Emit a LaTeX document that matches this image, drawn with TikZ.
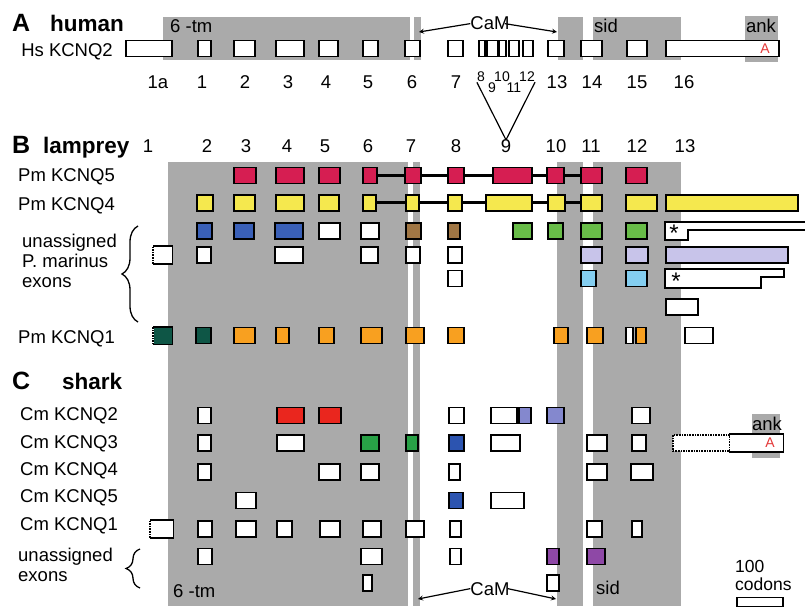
\documentclass[tikz,border=0pt]{standalone}
\usepackage{fontspec}
\setmainfont{Liberation Sans}
\usetikzlibrary{decorations.pathreplacing}

\definecolor{bandgray}{RGB}{170,170,170}
\definecolor{pmred}{RGB}{214,30,82}
\definecolor{pmyellow}{RGB}{245,232,78}
\definecolor{pmblue}{RGB}{58,96,184}
\definecolor{pmbrown}{RGB}{160,118,68}
\definecolor{pmgreen}{RGB}{104,188,72}
\definecolor{pmlilac}{RGB}{200,196,234}
\definecolor{pmcyan}{RGB}{132,206,240}
\definecolor{pmteal}{RGB}{14,86,70}
\definecolor{pmorange}{RGB}{248,160,32}
\definecolor{cmred}{RGB}{234,38,30}
\definecolor{cmgreen}{RGB}{40,160,70}
\definecolor{cmblue}{RGB}{44,84,176}
\definecolor{cmperi}{RGB}{132,136,206}
\definecolor{cmpurple}{RGB}{142,72,166}
\definecolor{ankred}{RGB}{228,56,56}

\begin{document}
\begin{tikzpicture}[
  x=1pt, y=-1pt,
  exon/.style={draw, line width=1.6pt, fill=white, anchor=west, inner sep=0pt,
    minimum height=16pt, minimum width=#1pt},
  exon/.default=14,
  band/.style={fill=bandgray, draw=none},
  link/.style={line width=3pt},
  cam/.style={->, >=stealth, line width=1.2pt},
  brc/.style={decorate, decoration={brace, amplitude=#1pt}, line width=1.3pt},
  head/.style={font=\fontsize{25}{28}\selectfont\bfseries, inner sep=0pt, anchor=base west},
  species/.style={font=\fontsize{22.5}{26}\selectfont\bfseries, inner sep=0pt, anchor=base west},
  lab/.style={font=\fontsize{18.5}{20}\selectfont, inner sep=0pt, anchor=base west},
  num/.style={font=\fontsize{18.5}{20}\selectfont, inner sep=0pt, anchor=base},
  sub/.style={font=\fontsize{14}{14}\selectfont, inner sep=0pt, anchor=base},
  ankA/.style={font=\fontsize{14}{14}\selectfont, text=ankred, inner sep=0pt},
  ast/.style={font=\fontsize{24}{24}\selectfont, inner sep=0pt},
]
\useasboundingbox (0,0) rectangle (805,609);

% --- shaded domains ---
\fill[band] (163,17) rectangle (410,60);
\fill[band] (414,17) rectangle (421,60);
\fill[band] (558,17) rectangle (583,60);
\fill[band] (593,17) rectangle (681,60);
\fill[band] (745,16) rectangle (778,62);

\fill[band] (168,162) rectangle (408,606);
\fill[band] (413,162) rectangle (420,606);
\fill[band] (557,162) rectangle (583,606);
\fill[band] (593,162) rectangle (681,606);
\fill[band] (752,414) rectangle (780,458);

% --- A: human ---
\node[head] (hA) at (12,32) {A};
\node[species] (hname) at (50,32) {human};
\node[lab, anchor=base east] (hsq2) at (113,56.5) {Hs KCNQ2};
\node[lab] (tmA) at (170,33) {6 -tm};
\node[lab] (sidA) at (594,33) {sid};
\node[lab, anchor=base] (ankH) at (761,33) {ank};
\node[num] (camA) at (490,30) {CaM};

\node[exon=46] (h1a) at (125,48.5) {};
\node[exon=13] (h1) at (197,48.5) {};
\node[exon=21] (h2) at (233,48.5) {};
\node[exon=28] (h3) at (275,48.5) {};
\node[exon=19] (h4) at (318,48.5) {};
\node[exon=15] (h5) at (362,48.5) {};
\node[exon=15] (h6) at (404,48.5) {};
\node[exon=15] (h7) at (447,48.5) {};
\node[exon=6] (h8) at (478,48.5) {};
\node[exon=11] (h9) at (486,48.5) {};
\node[exon=7] (h10) at (498,48.5) {};
\node[exon=10] (h11) at (508,48.5) {};
\node[exon=10] (h12) at (522,48.5) {};
\node[exon=16] (h13) at (547,48.5) {};
\node[exon=21] (h14) at (580,48.5) {};
\node[exon=20] (h15) at (626,48.5) {};
\node[exon=113] (h16) at (665,48.5) {};
\node[ankA] (hsank) at (765,48.5) {A};

\coordinate (cam6) at (419,32);
\coordinate (cam13) at (557,32);
\draw[cam] (camA.west) -- (cam6);
\draw[cam] ([xshift=-5pt]camA.east) -- (cam13);

\node[num] (hn1a) at (158,89) {1a};
\node[num] (hn1) at (202,89) {1};
\node[num] (hn2) at (245,89) {2};
\node[num] (hn3) at (288,89) {3};
\node[num] (hn4) at (326,89) {4};
\node[num] (hn5) at (368,89) {5};
\node[num] (hn6) at (412,89) {6};
\node[num] (hn7) at (456,89) {7};
\node[sub] (hs8) at (481,82) {8};
\node[sub] (hs9) at (492,93) {9};
\node[sub] (hs10) at (502,82) {10};
\node[sub] (hs11) at (514,93) {11};
\node[sub] (hs12) at (527,82) {12};
\node[num] (hn13) at (557,89) {13};
\node[num] (hn14) at (592,89) {14};
\node[num] (hn15) at (637,89) {15};
\node[num] (hn16) at (684,89) {16};

% --- B: lamprey ---
\node[head] (hB) at (12,154) {B};
\node[species] (lname) at (43,154) {lamprey};
\node[num] (bn1) at (148,153) {1};
\node[num] (bn2) at (207,153) {2};
\node[num] (bn3) at (246,153) {3};
\node[num] (bn4) at (287,153) {4};
\node[num] (bn5) at (325,153) {5};
\node[num] (bn6) at (368,153) {6};
\node[num] (bn7) at (411,153) {7};
\node[num] (bn8) at (456,153) {8};
\node[num] (bn9) at (506,153) {9};
\node[num] (bn10) at (556,153) {10};
\node[num] (bn11) at (591,153) {11};
\node[num] (bn12) at (637,153) {12};
\node[num] (bn13) at (685,153) {13};

\draw[line width=1.2pt] (hs8.south west) -- (bn9.north);
\draw[line width=1.2pt] (hs12.south east) -- (bn9.north);

\node[lab] (pmq5) at (18,182) {Pm KCNQ5};
\node[lab] (pmq4) at (18,211) {Pm KCNQ4};
\node[lab, anchor=north west, align=left] (pmun) at (22,233.5) {unassigned\\P. marinus\\exons};
\node[lab] (pmq1) at (18,343) {Pm KCNQ1};
\coordinate (bbot) at (138,322);
\coordinate (btop) at (138,226);
\draw[brc=16] (bbot) -- (btop);

\node[exon=22, fill=pmred] (p5e3) at (233,175.5) {};
\node[exon=28, fill=pmred] (p5e4) at (275,175.5) {};
\node[exon=21, fill=pmred] (p5e5) at (318,175.5) {};
\node[exon=14, fill=pmred] (p5e6) at (362,175.5) {};
\node[exon=16, fill=pmred] (p5e7) at (404,175.5) {};
\node[exon=16, fill=pmred] (p5e8) at (447,175.5) {};
\node[exon=39, fill=pmred] (p5e9) at (492,175.5) {};
\node[exon=17, fill=pmred] (p5e10) at (546,175.5) {};
\node[exon=21, fill=pmred] (p5e11) at (580,175.5) {};
\node[exon=21, fill=pmred] (p5e12) at (625,175.5) {};
\draw[link] (p5e6) -- (p5e7);
\draw[link] (p5e7) -- (p5e8);
\draw[link] (p5e8) -- (p5e9);
\draw[link] (p5e9) -- (p5e10);
\draw[link] (p5e10) -- (p5e11);

\node[exon=16, fill=pmyellow] (p4e2) at (196,203) {};
\node[exon=21, fill=pmyellow] (p4e3) at (233,203) {};
\node[exon=28, fill=pmyellow] (p4e4) at (275,203) {};
\node[exon=20, fill=pmyellow] (p4e5) at (318,203) {};
\node[exon=13, fill=pmyellow] (p4e6) at (362,203) {};
\node[exon=13, fill=pmyellow] (p4e7) at (405,203) {};
\node[exon=14, fill=pmyellow] (p4e8) at (447,203) {};
\node[exon=46, fill=pmyellow] (p4e9) at (485,203) {};
\node[exon=17, fill=pmyellow] (p4e10) at (547,203) {};
\node[exon=21, fill=pmyellow] (p4e11) at (580,203) {};
\node[exon=31, fill=pmyellow] (p4e12) at (625,203) {};
\node[exon=132, fill=pmyellow] (p4e13) at (665,203) {};
\draw[link] (p4e6) -- (p4e7);
\draw[link] (p4e7) -- (p4e8);
\draw[link] (p4e8) -- (p4e9);
\draw[link] (p4e9) -- (p4e10);
\draw[link] (p4e10) -- (p4e11);

% unassigned P. marinus exons
\node[exon=15, fill=pmblue] (u1e2) at (196,231) {};
\node[exon=20, fill=pmblue] (u1e3) at (233,231) {};
\node[exon=28, fill=pmblue] (u1e4) at (274,231) {};
\node[exon=21] (u1e5) at (318,231) {};
\node[exon=18] (u1e6) at (360,231) {};
\node[exon=15, fill=pmbrown] (u1e7) at (405,231) {};
\node[exon=12, fill=pmbrown] (u1e8) at (447,231) {};
\node[exon=19, fill=pmgreen] (u1e9) at (512,231) {};
\node[exon=15, fill=pmgreen] (u1e10) at (547,231) {};
\node[exon=21, fill=pmgreen] (u1e11) at (580,231) {};
\node[exon=21, fill=pmgreen] (u1e12) at (625,231) {};
\filldraw[fill=white, line width=1.6pt] (806,222) -- (665,222) -- (665,240) -- (688,240) -- (688,230) -- (806,230);
\node[ast] (u1ast) at (674,233) {*};

\node[exon=18, draw=none] (u2e1) at (153,255) {};
\draw[line width=1.6pt] (u2e1.north west) -- (u2e1.north east) -- (u2e1.south east) -- (u2e1.south west);
\draw[line width=1.6pt, densely dotted] (u2e1.south west) -- (u2e1.north west);
\node[exon=14] (u2e2) at (196,255) {};
\node[exon=28] (u2e4) at (274,255) {};
\node[exon=17] (u2e6) at (360,255) {};
\node[exon=14] (u2e7) at (405,255) {};
\node[exon=14] (u2e8) at (447,255) {};
\node[exon=21, fill=pmlilac] (u2e11) at (580,255) {};
\node[exon=22, fill=pmlilac] (u2e12) at (625,255) {};
\node[exon=122, fill=pmlilac] (u2e13) at (665,255) {};

\node[exon=14] (u3e8) at (447,278.5) {};
\node[exon=15, fill=pmcyan] (u3e11) at (580,278.5) {};
\node[exon=21, fill=pmcyan] (u3e12) at (625,278.5) {};
\filldraw[fill=white, line width=1.6pt] (665,269) -- (784,269) -- (784,277) -- (761,277) -- (761,288) -- (665,288) -- cycle;
\node[ast] (u3ast) at (676,281) {*};

\node[exon=32] (u4e13) at (665,307) {};

\node[exon=18, draw=none, fill=pmteal] (p1e1) at (153,335.5) {};
\draw[line width=1.6pt] (p1e1.north west) -- (p1e1.north east) -- (p1e1.south east) -- (p1e1.south west);
\draw[line width=1.6pt, densely dotted] (p1e1.south west) -- (p1e1.north west);
\node[exon=15, fill=pmteal] (p1e2) at (195,335.5) {};
\node[exon=21, fill=pmorange] (p1e3) at (233,335.5) {};
\node[exon=13, fill=pmorange] (p1e4) at (275,335.5) {};
\node[exon=15, fill=pmorange] (p1e5) at (318,335.5) {};
\node[exon=21, fill=pmorange] (p1e6) at (360,335.5) {};
\node[exon=18, fill=pmorange] (p1e7) at (405,335.5) {};
\node[exon=16, fill=pmorange] (p1e8) at (447,335.5) {};
\node[exon=14, fill=pmorange] (p1e10) at (553,335.5) {};
\node[exon=16, fill=pmorange] (p1e11) at (586,335.5) {};
\node[exon=7] (p1e12a) at (625,335.5) {};
\node[exon=10, fill=pmorange] (p1e12) at (635,335.5) {};
\node[exon=28] (p1e13) at (684,335.5) {};

% --- C: shark ---
\node[head] (hC) at (12,389) {C};
\node[species] (sname) at (62,389) {shark};
\node[lab] (cmq2) at (20,420) {Cm KCNQ2};
\node[lab] (cmq3) at (20,448) {Cm KCNQ3};
\node[lab] (cmq4) at (20,475) {Cm KCNQ4};
\node[lab] (cmq5) at (20,502) {Cm KCNQ5};
\node[lab] (cmq1) at (20,530) {Cm KCNQ1};
\node[lab, anchor=north west, align=left] (cmun) at (18,548) {unassigned\\exons};
\coordinate (cbot) at (140,588);
\coordinate (ctop) at (140,549);
\draw[brc=14] (cbot) -- (ctop);

\node[exon=13] (c2e2) at (197,415.5) {};
\node[exon=27, fill=cmred] (c2e4) at (276,415.5) {};
\node[exon=22, fill=cmred] (c2e5) at (318,415.5) {};
\node[exon=15] (c2e8) at (448,415.5) {};
\node[exon=26] (c2e9) at (490,415.5) {};
\node[exon=12, fill=cmperi] (c2e9b) at (518,415.5) {};
\node[exon=17, fill=cmperi] (c2e10) at (546,415.5) {};
\node[exon=18] (c2e12) at (631,415.5) {};

\node[exon=13] (c3e2) at (197,443) {};
\node[exon=27] (c3e4) at (276,443) {};
\node[exon=18, fill=cmgreen] (c3e6) at (360,443) {};
\node[exon=12, fill=cmgreen] (c3e7) at (405,443) {};
\node[exon=15, fill=cmblue] (c3e8) at (448,443) {};
\node[exon=29] (c3e9) at (490,443) {};
\node[exon=20] (c3e11) at (586,443) {};
\node[exon=14] (c3e12) at (631,443) {};
\node[exon=57, densely dotted] (c3e13a) at (672,443) {};
\node[exon=53, draw=none] (c3e13) at (729,443) {};
\draw[line width=1.6pt] (c3e13.north west) -- (c3e13.north east) -- (c3e13.south east) -- (c3e13.south west);
\node[lab, anchor=base] (ankC) at (767,430) {ank};
\node[ankA] (cmank) at (770,443) {A};

\node[exon=13] (c4e2) at (197,472) {};
\node[exon=21] (c4e5) at (318,472) {};
\node[exon=18] (c4e6) at (360,472) {};
\node[exon=11] (c4e8) at (448,472) {};
\node[exon=20] (c4e11) at (586,472) {};
\node[exon=22] (c4e12) at (630,472) {};

\node[exon=20] (c5e3) at (235,500.5) {};
\node[exon=14, fill=cmblue] (c5e8) at (448,500.5) {};
\node[exon=33] (c5e9) at (490,500.5) {};

\node[exon=22, draw=none] (c1e1) at (150,529) {};
\draw[line width=1.6pt] (c1e1.north west) -- (c1e1.north east) -- (c1e1.south east) -- (c1e1.south west);
\draw[line width=1.6pt, densely dotted] (c1e1.south west) -- (c1e1.north west);
\node[exon=14] (c1e2) at (197,529) {};
\node[exon=20] (c1e3) at (235,529) {};
\node[exon=15] (c1e4) at (276,529) {};
\node[exon=20] (c1e5) at (319,529) {};
\node[exon=18] (c1e6) at (362,529) {};
\node[exon=18] (c1e7) at (405,529) {};
\node[exon=11] (c1e8) at (449,529) {};
\node[exon=15] (c1e11) at (586,529) {};
\node[exon=10] (c1e12) at (631,529) {};

\node[exon=14] (cu1e2) at (197,556.5) {};
\node[exon=21] (cu1e6) at (360,556.5) {};
\node[exon=11] (cu1e8) at (449,556.5) {};
\node[exon=12, fill=cmpurple] (cu1e10) at (546,556.5) {};
\node[exon=18, fill=cmpurple] (cu1e11) at (586,556.5) {};

\node[exon=9] (cu2e6) at (362,583) {};
\node[exon=12] (cu2e10) at (546,583) {};

\node[lab] (tmC) at (173,597) {6 -tm};
\node[num] (camC) at (490,595) {CaM};
\node[lab, anchor=base] (sidC) at (608,594) {sid};
\coordinate (cam7) at (418,599);
\coordinate (cam10) at (556,599);
\draw[cam] (camC.west) -- (cam7);
\draw[cam] ([xshift=-2pt]camC.east) -- (cam10);

% scale
\node[lab, anchor=north west, align=left, font=\fontsize{17.5}{18.5}\selectfont] (codons) at (735,560) {100\\codons};
\node[exon=46, minimum height=9pt] (scalebar) at (736,602) {};

\end{tikzpicture}
\end{document}
